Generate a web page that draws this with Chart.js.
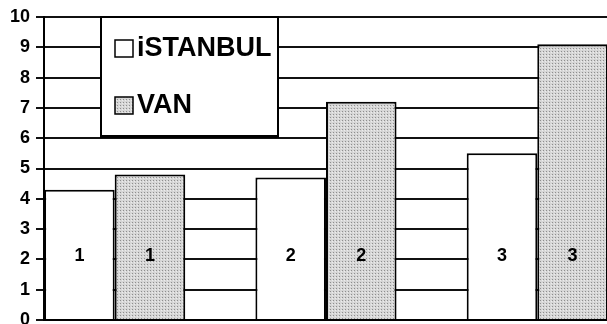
<!DOCTYPE html>
<html>
<head>
<meta charset="utf-8">
<script src="https://cdn.jsdelivr.net/npm/chart.js@4/dist/chart.umd.min.js"></script>
<style>
html,body{margin:0;padding:0;background:#fff;overflow:hidden;}
canvas{display:block;}
</style>
</head>
<body>
<canvas id="c" width="607" height="324"></canvas>
<script>
const categories = [1, 2, 3];
const seriesNames = ['iSTANBUL', 'VAN'];
const istanbul = [4.3, 4.7, 5.5];
const van = [4.8, 7.2, 9.1];
const yTicks = [0, 1, 2, 3, 4, 5, 6, 7, 8, 9, 10];

const FONT = "'Liberation Sans', Arial, sans-serif";

// dotted gray pattern for VAN
function makePattern() {
  const p = document.createElement('canvas');
  p.width = 3; p.height = 3;
  const g = p.getContext('2d');
  g.fillStyle = '#d6d6d6';
  g.fillRect(0, 0, 3, 3);
  g.fillStyle = '#8e8e8e';
  g.fillRect(0, 0, 1, 1);
  g.fillStyle = '#ececec';
  g.fillRect(2, 1, 1, 1);
  return g.createPattern(p, 'repeat');
}
const vanFill = makePattern();

const barLabels = {
  id: 'barLabels',
  afterDatasetsDraw(chart) {
    const ctx = chart.ctx;
    const y = chart.scales.y.getPixelForValue(2.1);
    ctx.save();
    ctx.fillStyle = '#000';
    ctx.font = 'bold 18px ' + FONT;
    ctx.textAlign = 'center';
    ctx.textBaseline = 'middle';
    chart.data.datasets.forEach((ds, di) => {
      chart.getDatasetMeta(di).data.forEach((el, i) => {
        ctx.fillText(String(categories[i]), el.x, y);
      });
    });
    ctx.restore();
  }
};

const legendBox = {
  id: 'legendBox',
  afterDraw(chart) {
    const ctx = chart.ctx;
    const x0 = 101, y0 = 17, w = 177, h = 119;
    ctx.save();
    ctx.fillStyle = '#fff';
    ctx.fillRect(x0, y0, w, h);
    ctx.strokeStyle = '#000';
    ctx.lineWidth = 2;
    ctx.strokeRect(x0, y0, w, h);
    ctx.fillStyle = '#000';
    ctx.fillRect(x0 - 1, y0 + h - 1, w + 2, 3);
    const rows = [48, 105];
    chart.data.datasets.forEach((ds, i) => {
      const cy = rows[i];
      ctx.fillStyle = ds.backgroundColor;
      ctx.fillRect(115, cy - 8, 18, 17);
      ctx.lineWidth = 1.5;
      ctx.strokeStyle = '#000';
      ctx.strokeRect(115, cy - 8, 18, 17);
      ctx.fillStyle = '#000';
      ctx.font = 'bold 27px ' + FONT;
      ctx.textAlign = 'left';
      ctx.textBaseline = 'middle';
      ctx.fillText(ds.label, 137, cy + 1);
    });
    ctx.restore();
  }
};

new Chart(document.getElementById('c'), {
  type: 'bar',
  data: {
    datasets: [
      {
        label: seriesNames[0],
        data: categories.map((c, i) => ({ x: c, y: istanbul[i] })),
        backgroundColor: '#ffffff',
        borderColor: '#000000',
        borderWidth: 2
      },
      {
        label: seriesNames[1],
        data: categories.map((c, i) => ({ x: c, y: van[i] })),
        backgroundColor: vanFill,
        borderColor: '#000000',
        borderWidth: 2
      }
    ]
  },
  options: {
    responsive: false,
    animation: false,
    devicePixelRatio: 1,
    layout: { padding: { top: 17, left: 0, right: 0, bottom: 0 } },
    categoryPercentage: 0.668,
    barPercentage: 1.0,
    plugins: { legend: { display: false }, tooltip: { enabled: false } },
    scales: {
      x: {
        type: 'linear',
        offset: false,
        min: 0.6655,
        max: 3.33,
        afterBuildTicks(s) { s.ticks = categories.map(v => ({ value: v })); },
        grid: { display: false },
        border: { display: true, color: '#000', width: 2 },
        ticks: { display: false },
        afterFit(s) { s.height = 4; s.paddingLeft = 0; s.paddingRight = 0; }
      },
      y: {
        min: 0,
        max: 10,
        afterBuildTicks(s) { s.ticks = yTicks.map(v => ({ value: v })); },
        grid: { color: '#111', lineWidth: 2, drawTicks: true, tickLength: 8 },
        border: { display: true, color: '#000', width: 2 },
        ticks: {
          color: '#000',
          padding: 6,
          font: { family: FONT, size: 18, weight: 'bold' }
        },
        afterFit(s) { s.width = 44; s.paddingTop = 0; s.paddingBottom = 0; }
      }
    }
  },
  plugins: [barLabels, legendBox]
});
</script>
</body>
</html>
